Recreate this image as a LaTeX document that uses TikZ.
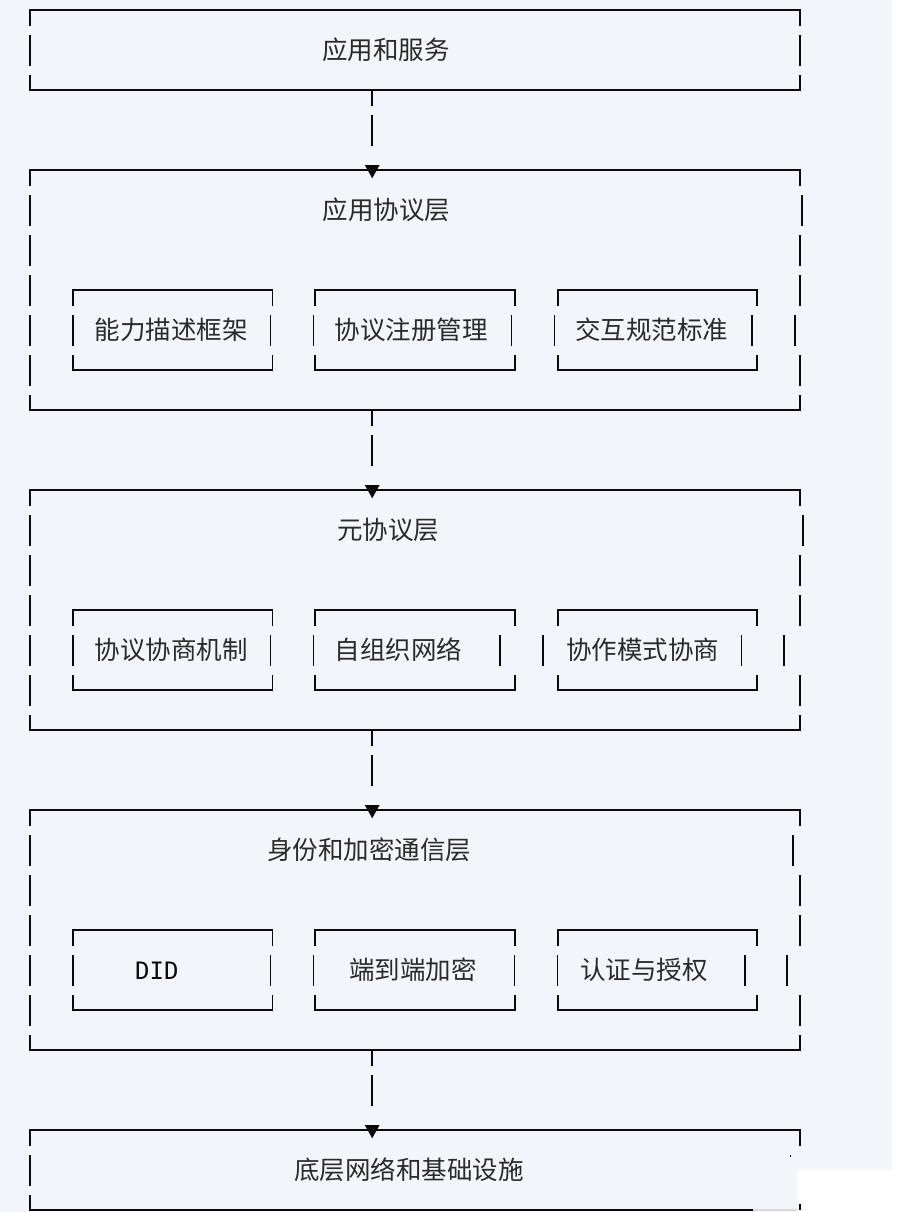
\documentclass[tikz,border=0pt]{standalone}
\usepackage{fontspec}
\newfontfamily\cjkfont{Noto Sans CJK SC}
\newfontfamily\monofont{DejaVu Sans Mono}
\definecolor{bgc}{HTML}{F2F6FA}
\definecolor{linec}{HTML}{0A0A0A}
\definecolor{textc}{HTML}{2A2A2A}
\newcommand\vbar[2]{\draw[ln] (#1,{#2-15}) -- (#1,{#2+15.7});}
\newcommand\obox[4]{%
  \draw[ln] (#1,{#3+15.7}) -- (#1,#3) -- (#2,#3) -- (#2,{#3+15.7});
  \draw[ln] (#1,{#4-15}) -- (#1,#4) -- (#2,#4) -- (#2,{#4-15});}
\newcommand\conn[2]{% #1 name prefix, #2 y of bottom line
  \coordinate (#1s) at (372.2,#2);
  \coordinate (#1a) at (372.2,{#2+15.7});
  \coordinate (#1b) at (372.2,{#2+25});
  \coordinate (#1c) at (372.2,{#2+56});
  \coordinate (#1l) at (364.8,{#2+75});
  \coordinate (#1r) at (379.6,{#2+75});
  \coordinate (#1e) at (372.2,{#2+88.3});
  \draw[ln] (#1s) -- (#1a);
  \draw[ln] (#1b) -- (#1c);
  \fill[linec] (#1l) -- (#1r) -- (#1e) -- cycle;}
\begin{document}
\begin{tikzpicture}[x=1pt,y=-1pt,
  ln/.style={line width=1.8pt, draw=linec},
  lbl/.style={anchor=base west, inner sep=0pt, text=textc,
    font=\cjkfont\fontsize{25.5}{30}\selectfont},
  mono/.style={anchor=base west, inner sep=0pt, text=linec,
    font=\monofont\fontsize{24}{28}\selectfont}]
\useasboundingbox (0,0) rectangle (900,1212);
\fill[bgc] (0,0) rectangle (892,1212);
\fill[white] (892,0) rectangle (900,1212);

% ---------- box 1 ----------
\obox{30}{800}{10}{90}
\vbar{30}{50}\vbar{800}{50}
\node[lbl] (t1) at (322,59.3) {应用和服务};

\conn{k1}{90}

% ---------- box 2 ----------
\obox{30}{800}{170}{410}
\foreach \y in {210,250,290,330,370} {\vbar{30}{\y}}
\vbar{802}{210}\vbar{800}{250}\vbar{800}{290}\vbar{795}{330}\vbar{800}{370}
\node[lbl] (t2) at (322.4,219.3) {应用协议层};
\obox{72.8}{272.4}{290}{370}
\obox{315.2}{514.8}{290}{370}
\obox{557.6}{757.3}{290}{370}
\vbar{72.9}{330}\vbar{270.5}{330}\vbar{313.4}{330}\vbar{511.5}{330}\vbar{554.4}{330}\vbar{752}{330}
\node[lbl] (t21) at (94.5,339.3) {能力描述框架};
\node[lbl] (t22) at (334.5,339.3) {协议注册管理};
\node[lbl] (t23) at (575,339.3) {交互规范标准};

\conn{k2}{410}

% ---------- box 3 ----------
\obox{30}{800}{490}{730}
\foreach \y in {530,570,610,650,690} {\vbar{30}{\y}}
\vbar{803.3}{530}\vbar{800}{570}\vbar{800}{610}\vbar{784}{650}\vbar{800}{690}
\node[lbl] (t3) at (337,539.3) {元协议层};
\obox{72.8}{272.4}{610}{690}
\obox{315.2}{514.8}{610}{690}
\obox{557.6}{757.3}{610}{690}
\vbar{72.9}{650}\vbar{270.5}{650}\vbar{313.4}{650}\vbar{500}{650}\vbar{543}{650}\vbar{741.5}{650}
\node[lbl] (t31) at (94.5,659.3) {协议协商机制};
\node[lbl] (t32) at (334.5,659.3) {自组织网络};
\node[lbl] (t33) at (566,659.3) {协作模式协商};

\conn{k3}{730}

% ---------- box 4 ----------
\obox{30}{800}{810}{1050}
\foreach \y in {850,890,930,970,1010} {\vbar{30}{\y}}
\vbar{793}{850}\vbar{800}{890}\vbar{800}{930}\vbar{787}{970}\vbar{800}{1010}
\node[lbl] (t4) at (267,859.3) {身份和加密通信层};
\obox{72.8}{272.4}{930}{1010}
\obox{315.2}{514.8}{930}{1010}
\obox{557.6}{757.3}{930}{1010}
\vbar{72.9}{970}\vbar{270.5}{970}\vbar{313.4}{970}\vbar{514.5}{970}\vbar{557.5}{970}\vbar{745}{970}
\node[mono] (t41) at (135,979.3) {DID};
\node[lbl] (t42) at (349,979.3) {端到端加密};
\node[lbl] (t43) at (580,979.3) {认证与授权};

\conn{k4}{1050}

% ---------- box 5 ----------
\draw[ln] (30,{1130+15.7}) -- (30,1130) -- (800,1130) -- (800,{1130+15.7});
\draw[ln] (30,1195) -- (30,1210) -- (753,1210);
\draw[line width=1.8pt, draw=black!15] (753,1210) -- (797,1210);
\vbar{30}{1170}
\node[lbl] (t5) at (294,1179.3) {底层网络和基础设施};
\fill[white] (797,1170) rectangle (892,1212);
\draw[ln] (800,1204) -- (800,1210);
\fill[linec] (789.5,1154.5) rectangle (791.3,1157);
\end{tikzpicture}
\end{document}
